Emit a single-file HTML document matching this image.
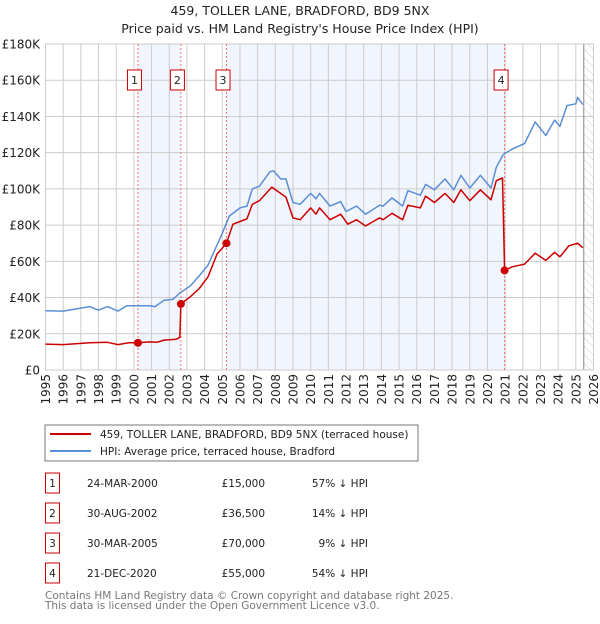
<!DOCTYPE html>
<html><head><meta charset="utf-8"><style>
body{margin:0;background:#fff;width:600px;height:620px;overflow:hidden;font-family:"DejaVu Sans","Liberation Sans",sans-serif;}
svg text{font-family:"DejaVu Sans","Liberation Sans",sans-serif;}
</style></head><body>
<svg id="c" width="600" height="620" xmlns="http://www.w3.org/2000/svg">
<defs><pattern id="hatch" width="6" height="6" patternUnits="userSpaceOnUse" patternTransform="rotate(-45)"><line x1="0" y1="0" x2="0" y2="6" stroke="#ccc" stroke-width="1"/></pattern></defs>
<text x="300" y="15" text-anchor="middle" font-size="12.5" fill="#222">459, TOLLER LANE, BRADFORD, BD9 5NX</text>
<text x="300" y="33" text-anchor="middle" font-size="12.5" fill="#222">Price paid vs. HM Land Registry's House Price Index (HPI)</text>
<g id="plot"></g>
<rect x="45" y="425" width="373" height="36" fill="#fff" stroke="#777"/>
<line x1="50" y1="434" x2="91" y2="434" stroke="#cc0000" stroke-width="2"/>
<text x="100" y="438" font-size="10.5" fill="#222">459, TOLLER LANE, BRADFORD, BD9 5NX (terraced house)</text>
<line x1="50" y1="451" x2="91" y2="451" stroke="#5b8fd4" stroke-width="2"/>
<text x="100" y="455" font-size="10.5" fill="#222">HPI: Average price, terraced house, Bradford</text>
<g id="table" font-size="10.5" fill="#222"></g>
<text x="45" y="599" font-size="10.5" fill="#777">Contains HM Land Registry data © Crown copyright and database right 2025.</text>
<text x="45" y="609" font-size="10.5" fill="#777">This data is licensed under the Open Government Licence v3.0.</text>
</svg>
<script>
const hpiYears=[1995,1996,1997.5,1998,1998.5,1999.1,1999.6,2000.9,2001.2,2001.7,2002.2,2002.6,2003.2,2003.7,2004.2,2004.7,2005.0,2005.4,2006.0,2006.4,2006.7,2007.1,2007.7,2007.9,2008.3,2008.6,2009.0,2009.4,2010.0,2010.3,2010.5,2011.1,2011.7,2012.0,2012.6,2013.1,2013.9,2014.1,2014.6,2015.2,2015.5,2016.2,2016.5,2017.0,2017.6,2018.1,2018.5,2019.0,2019.6,2020.2,2020.5,2020.9,2021.4,2022.1,2022.7,2023.3,2023.8,2024.1,2024.5,2025.0,2025.1,2025.4];
const hpiValues=[32.7,32.5,35,33,35,32.5,35.5,35.5,35,38.5,39,42.5,46.5,52,58,69,75.5,85,89.5,90.5,100,101.5,109.5,110,105.5,105.5,92.5,91.5,97.5,94.5,97.5,90.5,93,87.5,90.5,86,91,90.5,95,90.5,99,96.5,102.5,99.5,105.5,99.5,107.5,100.5,107.5,100.5,112,119,122,125,137,129.5,138,134.5,146,147,150.5,146.5];
const priceYears=[1995,1996,1997.5,1998.5,1999.1,1999.7,2000.23,2000.9,2001.3,2001.7,2002.4,2002.6,2002.66,2003.2,2003.7,2004.2,2004.7,2005.24,2005.6,2006.0,2006.4,2006.7,2007.1,2007.8,2008.3,2008.6,2009.0,2009.4,2010.0,2010.3,2010.5,2011.1,2011.7,2012.1,2012.6,2013.1,2013.9,2014.1,2014.6,2015.2,2015.5,2016.2,2016.5,2017.0,2017.6,2018.1,2018.5,2019.0,2019.6,2020.2,2020.5,2020.85,2020.97,2021.4,2022.1,2022.7,2023.3,2023.8,2024.1,2024.6,2025.1,2025.4];
const priceValues=[14.3,14,15,15.3,14,15,15,15.5,15.3,16.5,17,18,36.5,40.5,45,51.5,64,70,80.5,82,83.5,91.5,93.5,101,97.5,95.5,84,83,89.5,86,89.5,83,86,80.5,83,79.5,84,83,86.5,83,91,89.5,96,92.5,97.5,92.5,99.5,93.5,99.5,94,104.5,106,55,57,58.5,64.5,60.5,65,62.5,68.5,70,67.5];
const saleLabels=["1","2","3","4"];
const saleYears=[2000.23,2002.66,2005.24,2020.97];
const salePrices=[15,36.5,70,55];
const saleDates=["24-MAR-2000","30-AUG-2002","30-MAR-2005","21-DEC-2020"];
const salePriceText=["£15,000","£36,500","£70,000","£55,000"];
const saleHpiText=["57% ↓ HPI","14% ↓ HPI","9% ↓ HPI","54% ↓ HPI"];
const yTicks=[0,20,40,60,80,100,120,140,160,180];
const yTickLabels=["£0","£20K","£40K","£60K","£80K","£100K","£120K","£140K","£160K","£180K"];
const xTicks=[1995,1996,1997,1998,1999,2000,2001,2002,2003,2004,2005,2006,2007,2008,2009,2010,2011,2012,2013,2014,2015,2016,2017,2018,2019,2020,2021,2022,2023,2024,2025,2026];
const dataEndYear=2025.45;

const NS="http://www.w3.org/2000/svg";
const X0=45.5,X1=593.5,Y0=370,Y1=44;
const xs=y=>X0+(y-1995)/(2026-1995)*(X1-X0);
const ys=v=>Y0-v/180*(Y0-Y1);
const plot=document.getElementById('plot');
function mk(tag,attrs,parent){const e=document.createElementNS(NS,tag);for(const k in attrs)e.setAttribute(k,attrs[k]);(parent||plot).appendChild(e);return e;}
let r;
r=mk('rect',{x:X0,y:Y1,width:X1-X0,height:Y0-Y1,fill:'#fff'});


r=mk('rect',{x:xs(saleYears[0]),y:Y1,width:xs(saleYears[1])-xs(saleYears[0]),height:Y0-Y1,fill:'#f1f5fd'});


r=mk('rect',{x:xs(saleYears[2]),y:Y1,width:xs(saleYears[3])-xs(saleYears[2]),height:Y0-Y1,fill:'#f1f5fd'});


r=mk('rect',{x:xs(dataEndYear),y:Y1,width:X1-xs(dataEndYear),height:Y0-Y1,fill:'url(#hatch)'});


yTicks.forEach((v,i)=>{
 const l=mk('line',{x1:X0,x2:X1,y1:ys(v),y2:ys(v),stroke:'#ccc','stroke-width':1});
 
 
 const t=mk('text',{x:40,y:ys(v)+4.5,'text-anchor':'end','font-size':12,fill:'#222'});
 t.textContent=yTickLabels[i];
 
 
});
xTicks.forEach(y=>{
 const l=mk('line',{x1:xs(y),x2:xs(y),y1:Y1,y2:Y0,stroke:'#ccc','stroke-width':1});
 
 
 const t=mk('text',{x:0,y:0,'text-anchor':'end','font-size':12,fill:'#222',transform:`translate(${xs(y)+4.5},374) rotate(-90)`});
 t.textContent=y;
 
 
});
r=mk('line',{x1:xs(dataEndYear),x2:xs(dataEndYear),y1:Y1,y2:Y0,stroke:'#888','stroke-width':1});


r=mk('rect',{x:X0,y:Y1,width:X1-X0,height:Y0-Y1,fill:'none',stroke:'#ccc'});


saleYears.forEach((y,i)=>{
 const l=mk('line',{x1:xs(y),x2:xs(y),y1:Y1,y2:Y0,stroke:'#f07070','stroke-width':1,'stroke-dasharray':'2,2'});
 
 
 const b=mk('rect',{x:xs(y)-10.5,y:70,width:14,height:20,fill:'#fff',stroke:'#cc0000'});
 
 
 const t=mk('text',{x:xs(y)-3.5,y:84,'text-anchor':'middle','font-size':11,fill:'#222'});
 t.textContent=saleLabels[i];
 
 
});
const pts=(a,b)=>a.map((y,i)=>xs(y).toFixed(1)+','+ys(b[i]).toFixed(1)).join(' ');
r=mk('polyline',{points:pts(hpiYears,hpiValues),fill:'none',stroke:'#5b8fd4','stroke-width':1.5,'stroke-linejoin':'round'});


r=mk('polyline',{points:pts(priceYears,priceValues),fill:'none',stroke:'#cc0000','stroke-width':1.5,'stroke-linejoin':'round'});


saleYears.forEach((y,i)=>{
 const c=mk('circle',{cx:xs(y),cy:ys(salePrices[i]),r:4,fill:'#cc0000'});
 
 
});
const tbl=document.getElementById('table');
saleYears.forEach((y,i)=>{
 const cy=483+i*30;
 const b=mk('rect',{x:45.5,y:cy-10,width:14,height:20,fill:'#fff',stroke:'#cc0000'},tbl);
 
 
 const cells=[[52.5,saleLabels[i],'middle'],[87,saleDates[i],'start'],[265,salePriceText[i],'end'],[368,saleHpiText[i],'end']];
 cells.forEach(([x,txt,a],j)=>{
  const t=mk('text',{x:x,y:cy+4,'text-anchor':a,'font-size':10.5},tbl);
  t.textContent=txt;
  
  
 });
});
</script>
</body></html>
